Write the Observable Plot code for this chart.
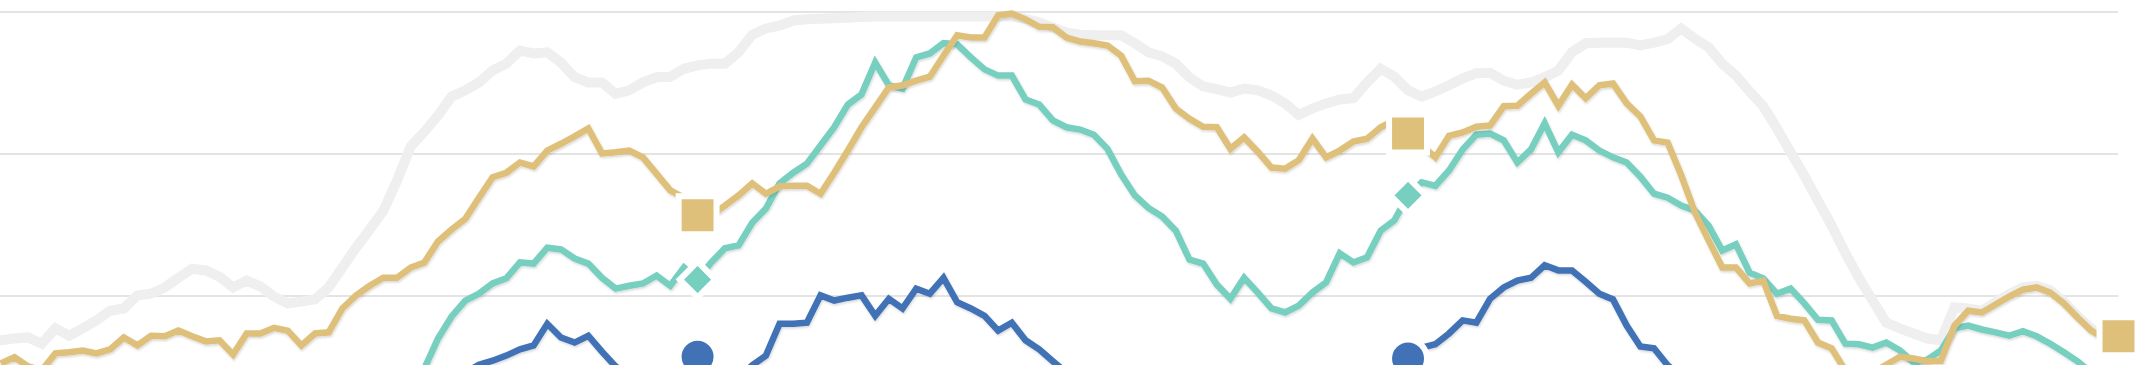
<!DOCTYPE html>
<html>
<head>
<meta charset="utf-8">
<script src="https://cdn.jsdelivr.net/npm/d3@7"></script>
<script src="https://cdn.jsdelivr.net/npm/@observablehq/plot@0.6"></script>
<style>
  html, body { margin: 0; padding: 0; background: #ffffff; }
  #chart svg { display: block; }
</style>
</head>
<body>
<div id="chart"></div>
<script>
// Week index (x) of each observation
const weeks = d3.range(1, 157);
// Weeks carrying a highlighted marker
const markerWeeks = [52, 104, 156];
// Horizontal grid values
const gridValues = [25, 50, 75];

// Series values (one per week)
const gray = [
  17.2, 17.5, 17.7, 16.6, 19.3, 18.0, 19.3, 20.7, 22.4, 22.8,
  25.1, 25.4, 26.5, 28.2, 29.8, 29.5, 28.4, 26.5, 27.7, 26.7,
  24.9, 23.7, 24.0, 24.4, 26.5, 30.0, 33.5, 36.7, 40.0, 45.3,
  51.3, 53.9, 56.8, 60.1, 61.2, 62.6, 64.7, 65.9, 68.2, 67.7,
  67.9, 66.1, 63.5, 62.6, 62.6, 60.6, 61.2, 62.6, 63.5, 63.6,
  65.0, 65.6, 65.9, 65.9, 67.9, 71.0, 72.1, 72.6, 73.5, 73.7,
  73.8, 73.9, 74.0, 74.1, 74.2, 74.2, 74.2, 74.2, 74.2, 74.2,
  74.2, 74.2, 74.2, 74.2, 74.2, 73.8, 73.2, 72.3, 71.4, 71.0,
  70.9, 70.9, 70.9, 69.5, 67.9, 67.2, 65.9, 63.5, 61.9, 61.4,
  60.8, 61.5, 61.2, 60.3, 58.9, 56.9, 58.0, 58.9, 59.6, 59.8,
  62.6, 65.0, 63.6, 61.2, 60.1, 61.0, 62.1, 63.3, 64.2, 64.3,
  62.9, 62.2, 62.6, 63.5, 64.7, 67.9, 69.5, 69.6, 69.6, 69.6,
  69.1, 69.6, 70.2, 72.1, 70.3, 68.8, 65.9, 63.8, 61.0, 58.4,
  54.5, 50.3, 46.2, 41.8, 37.4, 32.6, 28.2, 24.2, 20.3, 19.3,
  18.4, 17.5, 17.2, 23.0, 22.8, 22.4, 23.9, 25.3, 26.5, 26.8,
  26.0, 24.0, 21.5, 19.3, 17.9, 17.9
];

const gold = [
  13.1, 14.2, 12.6, 11.9, 14.9, 15.1, 15.4, 14.9, 15.6, 17.7,
  16.3, 18.0, 17.9, 18.9, 17.9, 17.0, 17.2, 14.7, 18.4, 18.4,
  19.4, 18.9, 16.3, 18.4, 18.6, 22.8, 25.1, 26.8, 28.2, 28.2,
  30.0, 30.9, 34.6, 36.7, 38.6, 42.3, 45.9, 46.7, 48.5, 47.8,
  50.6, 51.8, 53.1, 54.5, 50.1, 50.3, 50.6, 49.4, 46.5, 43.6,
  42.3, 39.2, 39.2, 40.9, 42.7, 44.8, 43.0, 44.3, 44.4, 44.4,
  43.0, 46.7, 50.6, 54.7, 58.2, 61.7, 62.1, 62.9, 63.6, 67.3,
  70.9, 70.5, 70.5, 74.4, 74.7, 73.7, 72.4, 72.3, 70.5, 69.8,
  69.5, 69.1, 67.3, 62.8, 62.9, 61.7, 58.0, 56.2, 54.8, 54.7,
  50.9, 52.9, 50.4, 47.6, 47.4, 48.9, 52.7, 49.4, 50.6, 52.2,
  52.7, 54.7, 55.9, 53.6, 51.5, 49.4, 53.2, 53.8, 54.8, 55.0,
  58.4, 58.5, 60.6, 62.6, 58.5, 62.2, 59.8, 62.1, 62.4, 58.9,
  56.6, 52.4, 52.0, 46.2, 39.7, 34.8, 30.0, 30.0, 27.2, 27.7,
  21.5, 21.0, 20.7, 16.8, 15.8, 11.9, 11.0, 11.5, 12.9, 14.3,
  14.0, 13.5, 13.6, 19.8, 22.4, 22.1, 23.5, 24.9, 26.1, 26.5,
  25.6, 23.7, 21.2, 18.9, 17.5, 17.9
];

const teal = [
  7.0, 7.2, 6.8, 7.1, 7.5, 7.3, 7.0, 7.4, 7.6, 7.2,
  7.5, 7.8, 7.4, 7.7, 8.0, 7.6, 7.9, 7.5, 7.8, 8.1,
  7.7, 7.9, 7.6, 8.0, 8.2, 7.9, 8.3, 8.0, 8.4, 8.6,
  8.9, 12.2, 17.5, 21.4, 24.2, 25.4, 27.2, 28.1, 30.9, 30.7,
  33.5, 33.2, 31.6, 30.7, 28.2, 26.3, 26.8, 27.2, 28.6, 26.8,
  30.0, 27.9, 30.9, 33.4, 33.9, 37.9, 40.4, 44.8, 46.7, 48.3,
  51.5, 54.7, 58.7, 60.5, 66.1, 62.1, 61.5, 67.0, 67.7, 69.5,
  69.3, 67.0, 64.9, 63.8, 63.8, 59.6, 58.7, 55.9, 54.7, 54.3,
  53.4, 50.9, 46.4, 42.7, 40.5, 39.0, 36.5, 31.4, 30.7, 27.0,
  24.5, 28.2, 25.6, 22.8, 22.1, 23.3, 25.6, 27.4, 32.5, 30.9,
  31.8, 36.5, 38.3, 42.7, 45.0, 44.4, 47.1, 50.8, 53.4, 53.6,
  52.4, 48.5, 50.8, 55.4, 50.3, 53.4, 52.4, 50.6, 49.4, 48.5,
  46.0, 43.0, 42.3, 40.9, 40.0, 37.4, 33.0, 34.1, 29.1, 28.1,
  25.4, 26.3, 23.7, 20.8, 20.7, 16.6, 16.5, 15.9, 16.8, 15.4,
  13.3, 13.8, 15.4, 19.3, 19.8, 19.1, 18.6, 18.0, 18.8, 17.9,
  16.6, 15.1, 13.5, 11.5, 10.1, 8.7
];

const blue = [
  5.0, 5.3, 5.1, 5.6, 5.4, 5.8, 5.5, 6.0, 5.7, 6.2,
  6.0, 6.4, 6.1, 6.6, 6.3, 6.8, 6.5, 7.0, 6.7, 7.2,
  6.9, 7.4, 7.1, 7.6, 7.3, 7.8, 7.6, 8.1, 7.9, 8.4,
  8.6, 9.1, 9.8, 10.6, 11.5, 12.9, 13.6, 14.5, 15.6, 16.3,
  20.1, 17.7, 16.8, 18.0, 15.2, 12.6, 11.0, 10.1, 9.2, 9.2,
  10.1, 14.3, 9.2, 9.2, 10.5, 12.8, 14.5, 20.1, 20.1, 20.3,
  25.1, 24.2, 24.7, 25.1, 21.5, 24.5, 22.8, 26.3, 25.4, 28.2,
  23.9, 22.8, 21.5, 18.9, 20.3, 17.2, 15.6, 13.5, 11.5, 10.2,
  9.6, 9.0, 8.7, 8.3, 8.0, 7.8, 7.5, 7.7, 7.3, 7.6,
  7.2, 7.5, 7.8, 7.4, 7.7, 8.0, 8.3, 8.1, 8.6, 8.9,
  9.0, 9.2, 11.5, 14.0, 15.9, 16.5, 18.4, 20.7, 20.3, 24.5,
  26.5, 27.7, 28.2, 30.4, 29.5, 29.5, 27.5, 25.4, 24.4, 19.8,
  16.1, 15.8, 12.8, 10.9, 9.8, 9.2, 8.8, 8.4, 8.1, 7.9,
  7.7, 7.4, 7.2, 7.0, 6.8, 6.9, 6.6, 6.4, 6.5, 6.3,
  6.1, 6.2, 6.0, 6.3, 6.5, 6.8, 7.0, 7.2, 7.4, 7.6,
  7.8, 7.9, 8.0, 8.1, 8.0, 7.9
];

const colors = { gray: "#efefef", gold: "#dfc07a", teal: "#77cfbf", blue: "#4272b6" };

const data = weeks.map((w, i) => ({ week: w, gray: gray[i], gold: gold[i], teal: teal[i], blue: blue[i] }));
const markers = data.filter(d => markerWeeks.includes(d.week));

const lineOpts = { x: "week", strokeWidth: 6.5, strokeLinejoin: "miter", strokeMiterlimit: 3, strokeLinecap: "butt", clip: true };

const chart = Plot.plot({
  width: 2137,
  height: 365,
  marginLeft: 0,
  marginRight: 19,
  marginTop: 0,
  marginBottom: 0,
  x: { domain: [0.98, 156], axis: null },
  y: { domain: [12.76, 77.02], axis: null },
  marks: [
    Plot.ruleY(gridValues, { stroke: "#e4e4e4", strokeWidth: 2 }),
    Plot.line(data, { x: "week", y: "gray", stroke: colors.gray, strokeWidth: 10, strokeLinejoin: "miter", strokeMiterlimit: 3, clip: true }),
    Plot.line(data, { ...lineOpts, y: "blue", stroke: colors.blue }),
    Plot.line(data, { ...lineOpts, y: "teal", stroke: colors.teal }),
    Plot.line(data, { ...lineOpts, y: "gold", stroke: colors.gold }),
    Plot.dot(markers, { x: "week", y: "blue", symbol: "circle", r: 19, fill: colors.blue, stroke: "white", strokeWidth: 6 }),
    Plot.dot(markers, { x: "week", y: "teal", symbol: "diamond2", r: 16, fill: colors.teal, stroke: "white", strokeWidth: 6 }),
    Plot.dot(markers, { x: "week", y: "gold", symbol: "square", r: 21.4, fill: colors.gold, stroke: "white", strokeWidth: 6 })
  ]
});

document.getElementById("chart").appendChild(chart);

// soft drop shadow under the coloured lines
const svg = d3.select(chart);
const defs = svg.insert("defs", ":first-child");
const f = defs.append("filter").attr("id", "lineShadow")
  .attr("filterUnits", "userSpaceOnUse")
  .attr("x", -20).attr("y", -20).attr("width", 2180).attr("height", 410);
f.append("feDropShadow").attr("dx", 0.8).attr("dy", 1.5).attr("stdDeviation", 1.3)
  .attr("flood-color", "#000").attr("flood-opacity", 0.16);
const lineGroups = svg.selectAll('g[aria-label="line"]').nodes();
lineGroups.slice(1).forEach(g => g.setAttribute("filter", "url(#lineShadow)"));
</script>
</body>
</html>
